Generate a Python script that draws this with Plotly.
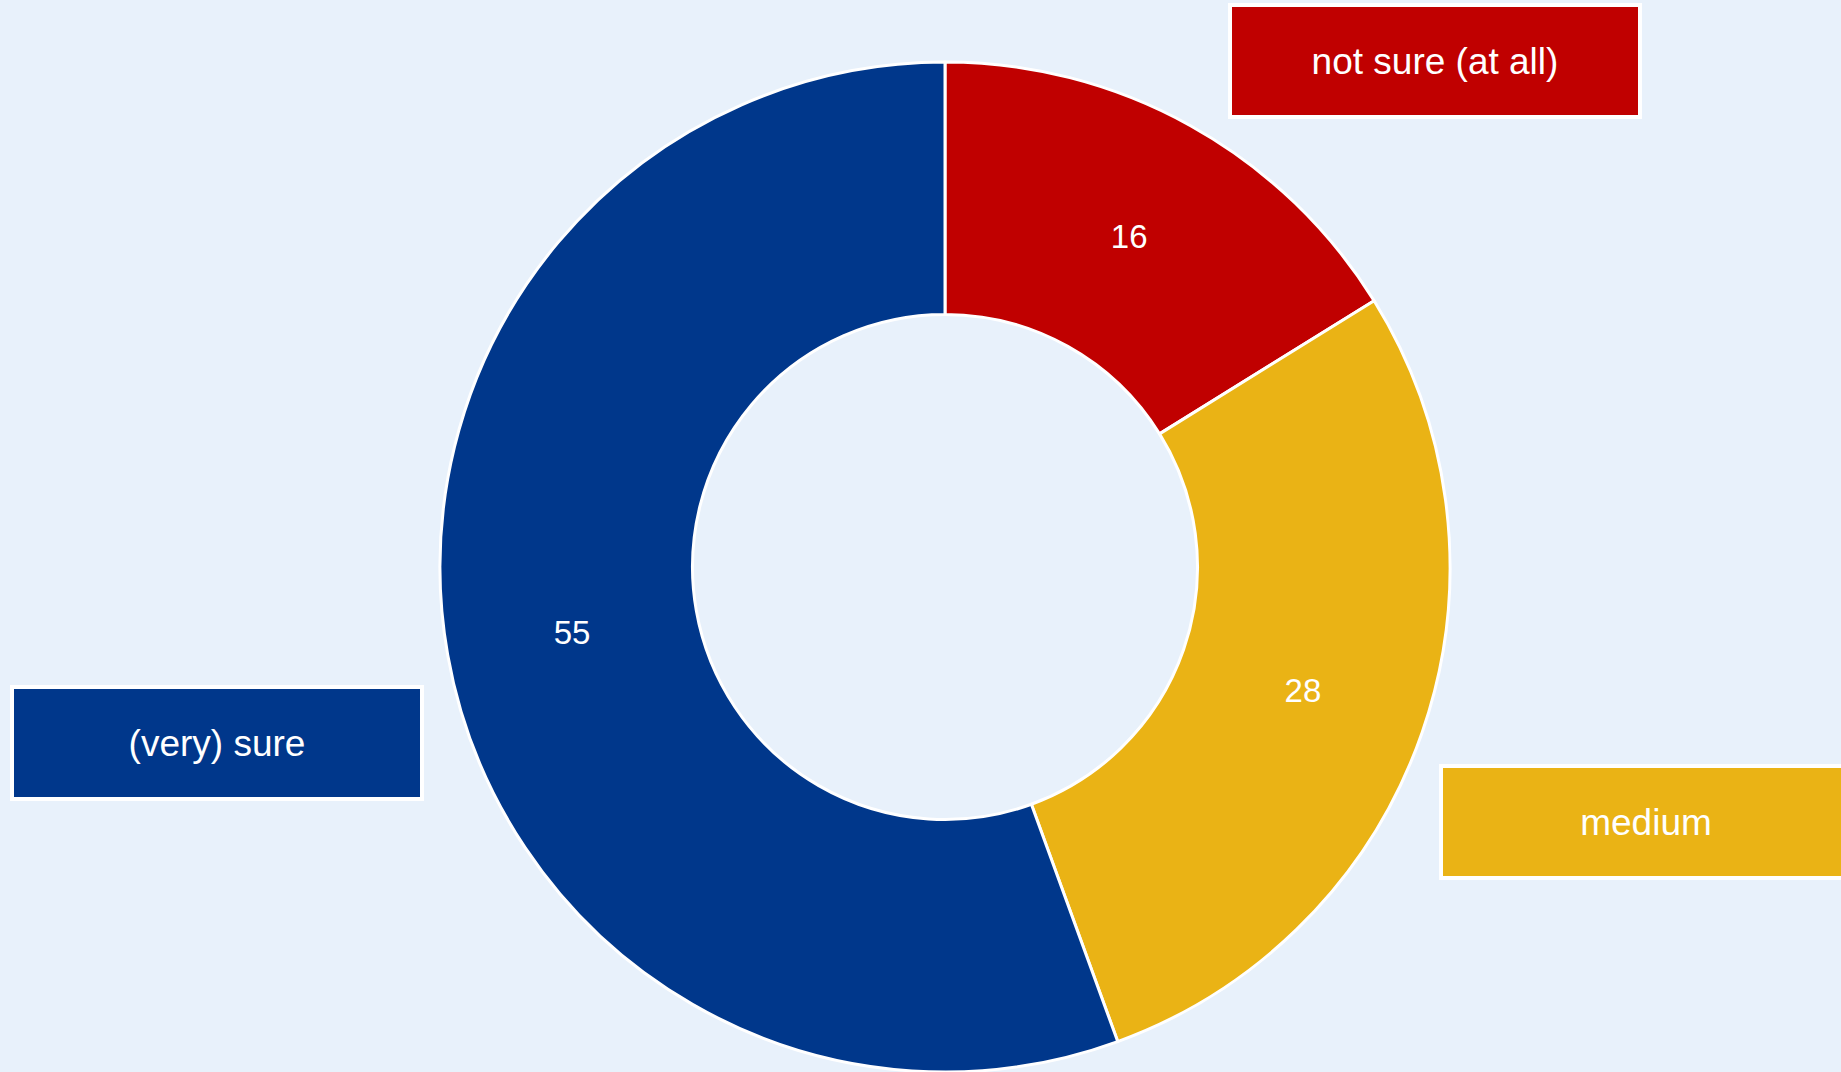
import plotly.graph_objects as go

categories = ["not sure (at all)", "medium", "(very) sure"]
values = [16, 28, 55]
colors = ["#C00000", "#EAB315", "#00378B"]

W, H = 1841, 1072
BG = "#E8F1FB"
FONT = "Arial, Liberation Sans, sans-serif"

fig = go.Figure()
fig.add_trace(go.Pie(
    labels=categories,
    values=values,
    sort=False,
    direction="clockwise",
    rotation=0,
    hole=0.5,
    textinfo="value",
    textposition="inside",
    insidetextorientation="horizontal",
    textfont=dict(color="white", size=33, family=FONT),
    marker=dict(colors=colors, line=dict(color="white", width=3)),
    showlegend=False,
    domain=dict(x=[440 / W, 1450 / W], y=[0, (H - 62) / H]),
))

# label boxes: (category index, center px x, center px y)
boxes = [(0, 1434.5, 61), (1, 1645.5, 822), (2, 216.5, 742.5)]
for i, cx, cy in boxes:
    fig.add_annotation(
        text=categories[i],
        xref="paper", yref="paper",
        x=cx / W, y=1 - cy / H,
        xanchor="center", yanchor="middle",
        showarrow=False,
        width=406, height=108,
        bgcolor=colors[i],
        bordercolor="white", borderwidth=4, borderpad=0,
        font=dict(color="white", size=37, family=FONT),
    )

fig.update_layout(
    width=W, height=H,
    paper_bgcolor=BG, plot_bgcolor=BG,
    margin=dict(l=0, r=0, t=0, b=0),
    font=dict(family=FONT),
)

fig.write_html(
    "out.html",
    config={"displayModeBar": False},
    post_script="document.body.style.margin='0';document.body.style.background='" + BG + "';document.body.style.overflow='hidden';",
)
